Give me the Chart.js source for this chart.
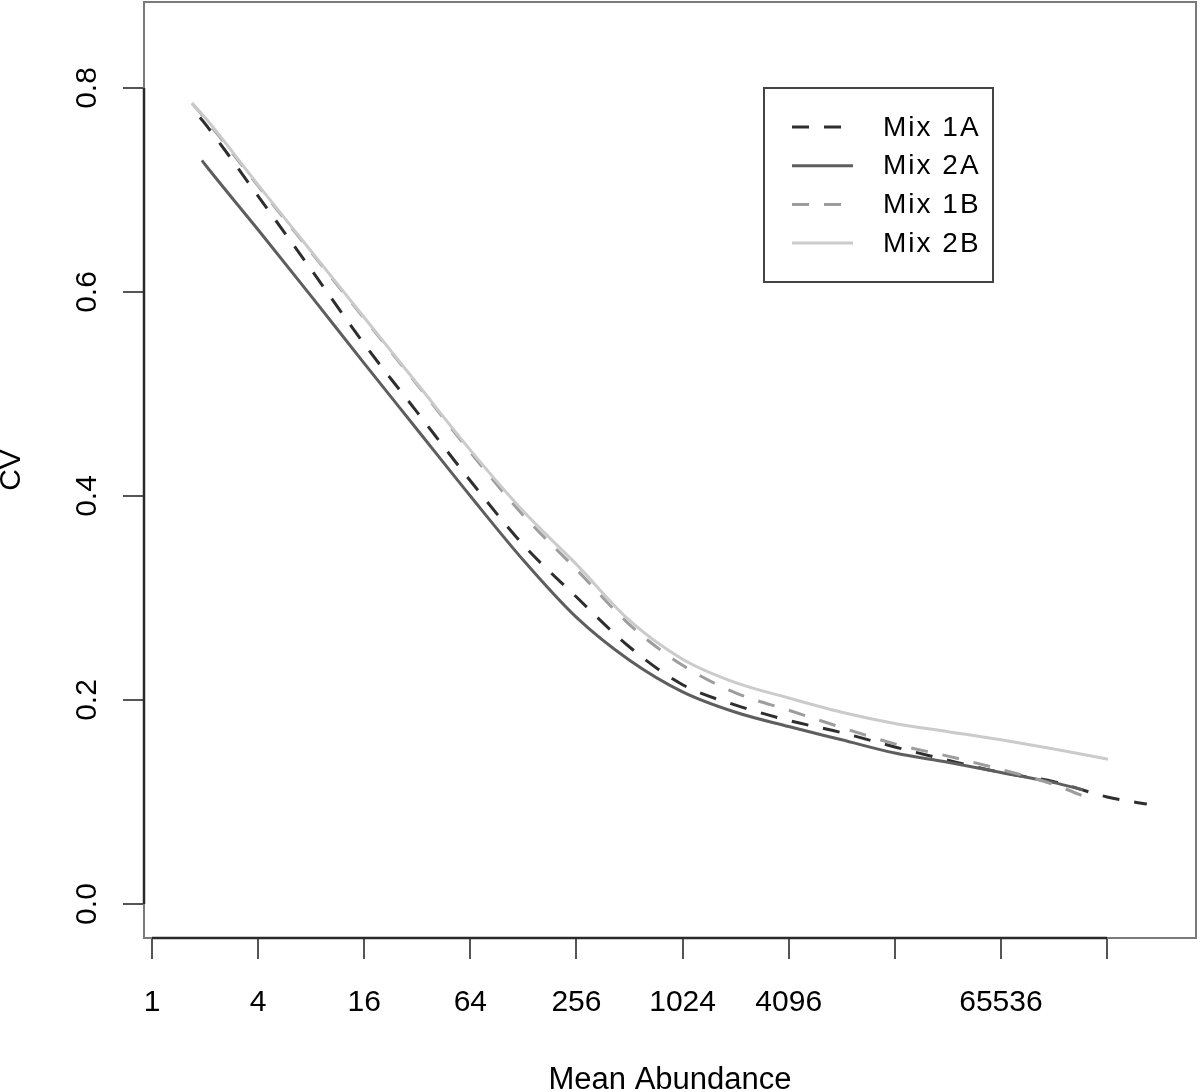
<!DOCTYPE html>
<html><head><meta charset="utf-8">
<script src="https://cdn.jsdelivr.net/npm/chart.js@4.4.1/dist/chart.umd.min.js"></script>
<style>html,body{margin:0;padding:0;background:#fff;}canvas{display:block;}</style>
</head><body>
<canvas id="c" width="1200" height="1092"></canvas>
<script>
const seriesNames = ['Mix 1A', 'Mix 2A', 'Mix 1B', 'Mix 2B'];
const xTicks = [1, 4, 16, 64, 256, 1024, 4096, 16384, 65536, 262144];
const xTickLabels = ['1', '4', '16', '64', '256', '1024', '4096', '', '65536', ''];
const yTicks = [0, 0.2, 0.4, 0.6, 0.8];

const mix1A_x = [1.87, 2, 4, 8, 16, 32, 64, 128, 256, 512, 1024, 2048, 4096, 8192, 16384, 32768, 65536, 131072, 262144, 440800];
const mix1A_cv = [0.771, 0.765, 0.694, 0.622, 0.549, 0.482, 0.415, 0.352, 0.301, 0.252, 0.215, 0.195, 0.180, 0.168, 0.154, 0.141, 0.129, 0.120, 0.105, 0.098];

const mix2A_x = [1.92, 2, 4, 8, 16, 32, 64, 128, 256, 512, 1024, 2048, 4096, 8192, 16384, 32768, 65536, 131072, 191900];
const mix2A_cv = [0.729, 0.725, 0.661, 0.596, 0.530, 0.465, 0.400, 0.337, 0.281, 0.239, 0.208, 0.188, 0.174, 0.161, 0.148, 0.139, 0.129, 0.119, 0.112];

const mix1B_x = [1.687, 2, 4, 8, 16, 32, 64, 128, 256, 512, 1024, 2048, 4096, 8192, 16384, 32768, 65536, 131072, 217400];
const mix1B_cv = [0.785, 0.770, 0.704, 0.639, 0.574, 0.509, 0.443, 0.381, 0.328, 0.274, 0.234, 0.207, 0.190, 0.173, 0.157, 0.145, 0.132, 0.117, 0.102];

const mix2B_x = [1.687, 2, 4, 8, 16, 32, 64, 128, 256, 512, 1024, 2048, 4096, 8192, 16384, 32768, 65536, 131072, 265800];
const mix2B_cv = [0.785, 0.771, 0.705, 0.640, 0.575, 0.510, 0.445, 0.385, 0.333, 0.278, 0.240, 0.217, 0.202, 0.188, 0.177, 0.169, 0.161, 0.152, 0.142];

const FONT = '"Liberation Sans", Arial, Helvetica, sans-serif';
Chart.defaults.font.family = FONT;

function pts(xs, ys) { return xs.map((x, i) => ({ x: x, y: ys[i] })); }

const datasets = [
  { label: seriesNames[0], data: pts(mix1A_x, mix1A_cv), borderColor: '#2e2e2e', borderDash: [17, 15], borderWidth: 3, order: 4 },
  { label: seriesNames[1], data: pts(mix2A_x, mix2A_cv), borderColor: '#5e5e5e', borderDash: [], borderWidth: 3, order: 3 },
  { label: seriesNames[2], data: pts(mix1B_x, mix1B_cv), borderColor: '#9d9d9d', borderDash: [17, 15], borderWidth: 3, order: 2 },
  { label: seriesNames[3], data: pts(mix2B_x, mix2B_cv), borderColor: '#cbcbcb', borderDash: [], borderWidth: 3, order: 1 }
];

const framePlugin = {
  id: 'frame',
  afterDraw(chart) {
    const { ctx, chartArea: a, scales: { x, y } } = chart;
    ctx.save();
    ctx.strokeStyle = '#7a7a7a';
    ctx.lineWidth = 2;
    ctx.strokeRect(a.left, a.top, a.right - a.left, a.bottom - a.top);
    ctx.strokeStyle = '#2a2a2a';
    ctx.lineWidth = 2.5;
    ctx.beginPath();
    ctx.moveTo(a.left, y.getPixelForValue(yTicks[0]));
    ctx.lineTo(a.left, y.getPixelForValue(yTicks[yTicks.length - 1]));
    ctx.stroke();
    ctx.beginPath();
    ctx.moveTo(x.getPixelForValue(xTicks[0]), a.bottom);
    ctx.lineTo(x.getPixelForValue(xTicks[xTicks.length - 1]), a.bottom);
    ctx.stroke();
    ctx.restore();
  }
};

const legendPlugin = {
  id: 'boxLegend',
  afterDraw(chart) {
    const ctx = chart.ctx;
    const bx = 764, by = 88, bw = 229, bh = 194;
    ctx.save();
    ctx.fillStyle = '#fff';
    ctx.fillRect(bx, by, bw, bh);
    ctx.strokeStyle = '#444';
    ctx.lineWidth = 2;
    ctx.strokeRect(bx, by, bw, bh);
    chart.data.datasets.forEach((ds, i) => {
      const yy = by + 39 + i * 38.7;
      ctx.strokeStyle = ds.borderColor;
      ctx.lineWidth = ds.borderWidth;
      ctx.setLineDash(ds.borderDash || []);
      ctx.beginPath();
      ctx.moveTo(792, yy);
      ctx.lineTo(853, yy);
      ctx.stroke();
      ctx.setLineDash([]);
      ctx.fillStyle = '#000';
      ctx.font = '28px ' + FONT;
      try { ctx.letterSpacing = '2px'; } catch (e) {}
      ctx.textAlign = 'left';
      ctx.textBaseline = 'middle';
      ctx.fillText(ds.label, 883, yy + 1);
    });
    ctx.restore();
  }
};

new Chart(document.getElementById('c'), {
  type: 'line',
  data: { datasets: datasets },
  options: {
    responsive: false,
    animation: false,
    devicePixelRatio: 1,
    layout: { padding: { left: 0, right: 4, top: 2, bottom: 0 } },
    plugins: { legend: { display: false }, tooltip: { enabled: false } },
    elements: { point: { radius: 0 }, line: { cubicInterpolationMode: 'monotone', fill: false } },
    scales: {
      x: {
        type: 'logarithmic',
        min: 0.901,
        max: 837800,
        afterBuildTicks: s => { s.ticks = xTicks.map(v => ({ value: v })); },
        afterFit: s => { s.height = 154; s.paddingLeft = 0; s.paddingRight = 0; },
        grid: { display: true, drawOnChartArea: false, drawTicks: true, tickLength: 21, color: '#555', lineWidth: 2 },
        border: { display: false },
        ticks: { autoSkip: false, maxRotation: 0, minRotation: 0, padding: 26, color: '#000', font: { size: 30 },
                 callback: (v, i) => xTickLabels[i] },
        title: { display: true, text: 'Mean Abundance', color: '#000', font: { size: 31, lineHeight: 1 }, padding: { top: 0, bottom: -4 } }
      },
      y: {
        type: 'linear',
        min: -0.0333,
        max: 0.8843,
        afterBuildTicks: s => { s.ticks = yTicks.map(v => ({ value: v })); },
        afterFit: s => { s.width = 144; s.paddingTop = 0; s.paddingBottom = 0; },
        grid: { display: true, drawOnChartArea: false, drawTicks: true, tickLength: 21, color: '#555', lineWidth: 2 },
        border: { display: false },
        ticks: { autoSkip: false, minRotation: 90, maxRotation: 90, crossAlign: 'center', padding: 14, color: '#000', font: { size: 30 },
                 callback: v => Number(v).toFixed(1) },
        title: { display: true, text: 'CV', color: '#000', font: { size: 30, lineHeight: 1 }, padding: { top: -3, bottom: 0 } }
      }
    }
  },
  plugins: [framePlugin, legendPlugin]
});
</script>
</body></html>
